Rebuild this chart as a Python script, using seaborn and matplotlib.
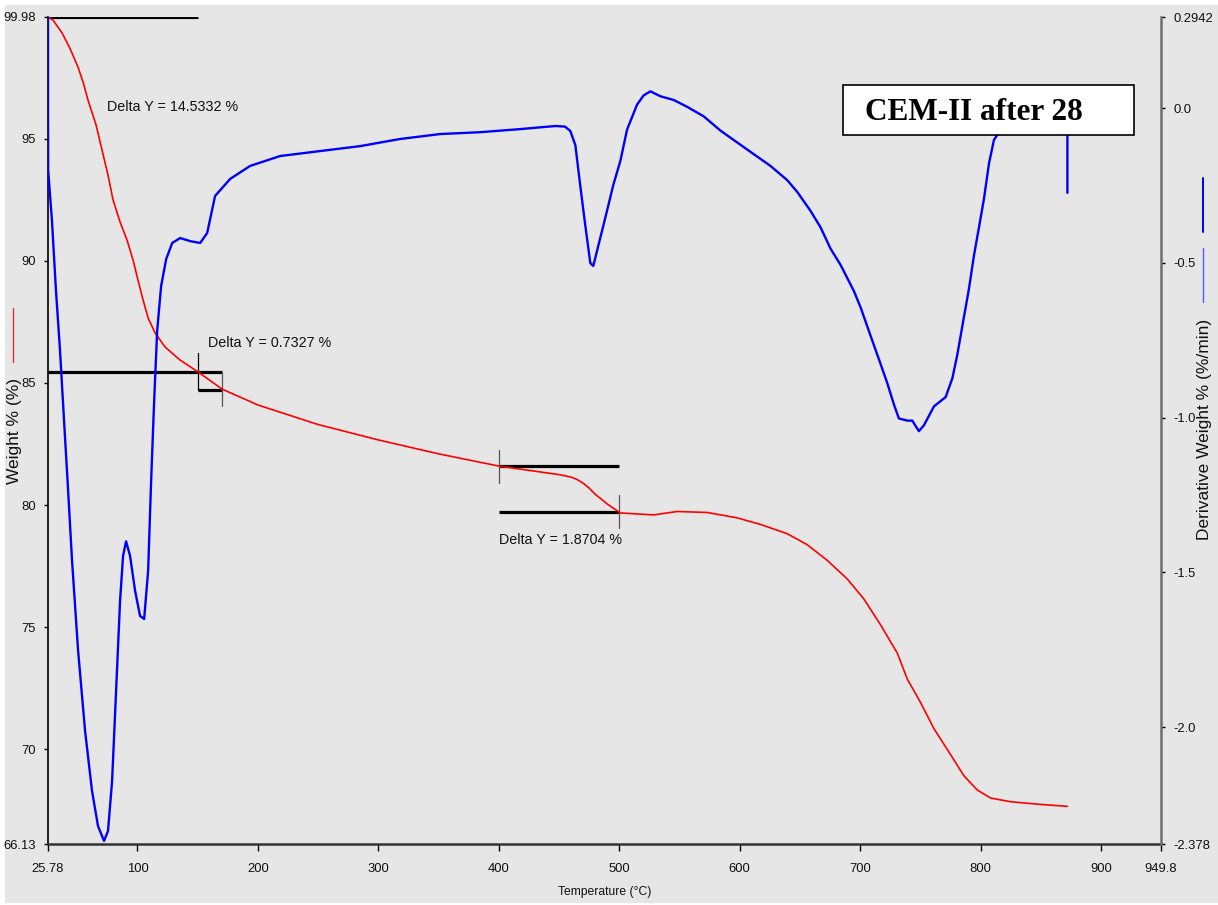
import matplotlib
matplotlib.use("Agg")
import matplotlib.pyplot as plt
from matplotlib import font_manager as fm
from matplotlib.patches import Rectangle
from matplotlib.lines import Line2D
import pandas as pd
import seaborn as sns

# ---------------- data ----------------
tga_temp = [25.78, 30.0, 37.4, 44.0, 50.7, 55.0, 59.0, 65.7, 70.6, 75.6, 79.8, 85.6,
            91.4, 96.4, 100.5, 104.7, 108.9, 114.7, 123.0, 135.4, 150.4, 170.3, 200.0,
            250.0, 300.0, 350.0, 400.0, 450.0, 460.0, 465.0, 470.0, 475.0, 480.0, 485.0,
            490.0, 495.0, 501.0, 528.6, 548.1, 573.0, 597.9, 617.3, 639.5, 656.1, 672.7,
            689.3, 703.1, 717.0, 730.9, 739.2, 750.2, 761.3, 775.1, 786.2, 797.3, 808.4,
            825.0, 847.2, 872.1]
tga_weight = [99.98, 99.85, 99.33, 98.7, 97.93, 97.3, 96.58, 95.56, 94.54, 93.51, 92.49, 91.59,
              90.85, 90.03, 89.21, 88.40, 87.66, 87.05, 86.47, 85.94, 85.45, 84.75, 84.10,
              83.30, 82.67, 82.10, 81.60, 81.25, 81.15, 81.05, 80.90, 80.70, 80.45, 80.25,
              80.05, 79.88, 79.68, 79.60, 79.74, 79.70, 79.48, 79.21, 78.83, 78.38, 77.74,
              76.98, 76.16, 75.10, 73.94, 72.88, 71.92, 70.85, 69.79, 68.92, 68.34, 68.01,
              67.86, 67.76, 67.67]

dtg_temp = [25.78, 25.78, 25.9, 29.1, 32.4, 35.7, 39.1, 42.4, 45.7, 50.7, 56.5, 62.3,
            67.3, 72.3, 75.6, 79.0, 82.3, 85.6, 88.1, 90.6, 93.9, 98.1, 102.2, 105.6,
            108.9, 111.4, 113.9, 116.4, 119.7, 123.9, 128.9, 135.5, 143.8, 152.1, 157.9,
            164.5, 177.0, 193.6, 218.5, 251.7, 285.0, 318.0, 351.4, 384.7, 417.9, 447.0,
            455.0, 459.4, 463.6, 467.7, 471.9, 476.0, 478.5, 482.0, 486.0, 490.0, 495.0,
            501.0, 506.5, 514.8, 520.3, 525.9, 534.2, 545.3, 556.4, 570.2, 584.1, 597.9,
            611.7, 625.6, 639.5, 647.8, 658.8, 667.1, 675.4, 683.8, 694.8, 700.4, 708.7,
            717.0, 722.5, 728.0, 732.2, 739.2, 743.3, 748.8, 753.0, 761.3, 771.0, 776.6,
            780.7, 786.2, 790.4, 794.5, 798.7, 802.8, 807.0, 811.1, 816.7, 871.6, 872.1, 872.1]
dtg_deriv = [0.2942, 0.0, -0.20, -0.366, -0.59, -0.78, -1.01, -1.23, -1.46, -1.75, -2.01, -2.206,
             -2.32, -2.368, -2.336, -2.174, -1.884, -1.593, -1.447, -1.40, -1.447, -1.56, -1.641,
             -1.651, -1.496, -1.205, -0.947, -0.72, -0.575, -0.488, -0.436, -0.42, -0.43, -0.436,
             -0.404, -0.284, -0.229, -0.187, -0.155, -0.139, -0.123, -0.10, -0.084, -0.078,
             -0.068, -0.058, -0.06, -0.074, -0.12, -0.252, -0.381, -0.501, -0.51, -0.455, -0.393,
             -0.33, -0.25, -0.17, -0.07, 0.011, 0.041, 0.054, 0.038, 0.026, 0.004, -0.027,
             -0.073, -0.111, -0.149, -0.187, -0.233, -0.271, -0.332, -0.385, -0.454, -0.507,
             -0.591, -0.644, -0.736, -0.827, -0.888, -0.957, -1.003, -1.010, -1.010, -1.044,
             -1.025, -0.964, -0.934, -0.873, -0.797, -0.675, -0.583, -0.477, -0.385, -0.294,
             -0.179, -0.103, -0.07, -0.05, -0.05, -0.274]

x_ticks = [25.78, 100, 200, 300, 400, 500, 600, 700, 800, 900, 949.8]
x_ticklabels = ["25.78", "100", "200", "300", "400", "500", "600", "700", "800", "900", "949.8"]
left_ticks = [66.13, 70, 75, 80, 85, 90, 95, 99.98]
left_ticklabels = ["66.13", "70", "75", "80", "85", "90", "95", "99.98"]
right_ticks = [-2.378, -2.0, -1.5, -1.0, -0.5, 0.0, 0.2942]
right_ticklabels = ["-2.378", "-2.0", "-1.5", "-1.0", "-0.5", "0.0", "0.2942"]

# Delta Y step analyses: (T start, T end) and (level start, level end)
step_temps = [(25.78, 150.0), (150.0, 170.0), (400.0, 500.0)]
step_levels = [(99.98, 85.447), (85.447, 84.715), (81.59, 79.72)]
delta_labels = ["Delta Y = 14.5332 %", "Delta Y = 0.7327 %", "Delta Y = 1.8704 %"]
title_text = "CEM-II after 28"

# ---------------- style ----------------
sns.set_theme(style="white")
avail = {f.name for f in fm.fontManager.ttflist}
if "Liberation Sans Narrow" in avail:
    narrow = "Liberation Sans Narrow"; k = 1.0
else:
    narrow = "Liberation Sans"; k = 0.87
plt.rcParams["font.family"] = [narrow, "DejaVu Sans"]

W, H = 1218, 905
fig = plt.figure(figsize=(W / 100, H / 100), dpi=100)
fig.patch.set_facecolor("white")
fig.add_artist(Rectangle((5 / W, 2 / H), 1 - 5 / W, 1 - 7 / H, transform=fig.transFigure,
                         facecolor="#e6e6e6", edgecolor="none", zorder=-10))

L, R, T, B = 48, 1161, 17, 844
ax1 = fig.add_axes([L / W, 1 - B / H, (R - L) / W, (B - T) / H])
ax1.set_facecolor("none")
ax2 = ax1.twinx()
ax2.set_facecolor("none")

# delta annotation lines (under the curves)
lk = dict(color="black", lw=2.3, solid_capstyle="butt", zorder=1)
(t0, t1), (t2, t3), (t4, t5) = step_temps
ax1.plot([t0, t1], [step_levels[0][0]] * 2, **lk)
ax1.plot([t0, t3], [step_levels[0][1]] * 2, **lk)
ax1.plot([t2, t3], [step_levels[1][1]] * 2, **lk)
ax1.plot([t4, t5], [step_levels[2][0]] * 2, **lk)
ax1.plot([t4, t5], [step_levels[2][1]] * 2, **lk)
ax1.plot([t2, t2], [step_levels[1][0] + 0.78, step_levels[1][1]], color="black", lw=0.9, zorder=1)
ax1.plot([t3, t3], [step_levels[1][0], step_levels[1][1] - 0.66], color="#555555", lw=0.9, zorder=1)
ax1.plot([t4, t4], [step_levels[2][0] + 0.66, step_levels[2][0] - 0.69], color="#555555", lw=0.9, zorder=1)
ax1.plot([t5, t5], [step_levels[2][1] + 0.69, step_levels[2][1] - 0.66], color="#555555", lw=0.9, zorder=1)

tga = pd.DataFrame({"Temperature": tga_temp, "Weight": tga_weight})
dtg = pd.DataFrame({"Temperature": dtg_temp, "Deriv": dtg_deriv})
sns.lineplot(data=tga, x="Temperature", y="Weight", ax=ax1, color="#ff0000", lw=1.2,
             estimator=None, sort=False, zorder=3)
sns.lineplot(data=dtg, x="Temperature", y="Deriv", ax=ax2, color="#0000ff", lw=1.7,
             estimator=None, sort=False, zorder=3)

ax1.set_xlim(25.78, 949.8)
ax1.set_ylim(66.13, 99.98)
ax2.set_ylim(-2.378, 0.2942)
ax1.set_xticks(x_ticks)
ax1.set_xticklabels(x_ticklabels)
ax1.set_yticks(left_ticks)
ax1.set_yticklabels(left_ticklabels)
ax2.set_yticks(right_ticks)
ax2.set_yticklabels(right_ticklabels)
ax1.set_xlabel(""); ax1.set_ylabel(""); ax2.set_ylabel("")

fs_tick = 10.8 * k
ax1.tick_params(axis="y", direction="out", length=3, width=1, colors="black", pad=6,
                labelsize=fs_tick, left=True)
ax1.tick_params(axis="x", direction="out", length=5, width=1, colors="black", pad=9,
                labelsize=fs_tick, bottom=True)
ax2.tick_params(axis="y", direction="out", length=3, width=1, colors="black", pad=6,
                labelsize=fs_tick, right=True)
for lab in ax1.get_xticklabels() + ax1.get_yticklabels() + ax2.get_yticklabels():
    lab.set_color("#111111")

for ax in (ax1, ax2):
    ax.spines["top"].set_visible(False)
ax1.spines["right"].set_visible(False)
ax2.spines["left"].set_visible(False)
ax2.spines["bottom"].set_visible(False)
ax1.spines["left"].set_color("black"); ax1.spines["left"].set_linewidth(1.2)
ax1.spines["bottom"].set_color("#333333"); ax1.spines["bottom"].set_linewidth(1.8)
ax2.spines["right"].set_color("#6e6e6e"); ax2.spines["right"].set_linewidth(1.8)
ax1.grid(False); ax2.grid(False)

# Delta texts
fs_d = 11.8 * k
ax1.text(74.8, 96.30, delta_labels[0], fontsize=fs_d, ha="left", va="center", color="#111111", zorder=4)
ax1.text(158.7, 86.64, delta_labels[1], fontsize=fs_d, ha="left", va="center", color="#111111", zorder=4)
ax1.text(400.5, 78.57, delta_labels[2], fontsize=fs_d, ha="left", va="center", color="#111111", zorder=4)

# axis labels
fig.text(605 / W, 1 - 892 / H, "Temperature (°C)", fontsize=10 * k, ha="center", va="center",
         color="#111111")
fig.text(15 / W, 1 - 431 / H, "Weight % (%)", fontsize=12.5, ha="center", va="center",
         rotation=90, color="#111111", family=["Liberation Sans", "DejaVu Sans"])
fig.text(1205 / W, 1 - 429 / H, "Derivative Weight % (%/min)", fontsize=12.5, ha="center",
         va="center", rotation=90, color="#111111", family=["Liberation Sans", "DejaVu Sans"])

# series key marks beside the axis labels
fig.add_artist(Line2D([13 / W, 13 / W], [1 - 308 / H, 1 - 362 / H], color="#e03030", lw=1.0,
                      transform=fig.transFigure))
fig.add_artist(Line2D([1203 / W, 1203 / W], [1 - 178 / H, 1 - 232 / H], color="#0000ee", lw=1.4,
                      transform=fig.transFigure))
fig.add_artist(Line2D([1203 / W, 1203 / W], [1 - 248 / H, 1 - 302 / H], color="#5a5aff", lw=1.0,
                      transform=fig.transFigure))

# title box
fig.add_artist(Rectangle((843 / W, 1 - 135 / H), (1134 - 843) / W, 50 / H, transform=fig.transFigure,
                         facecolor="white", edgecolor="black", lw=1.2, zorder=10))
fig.text(865 / W, 1 - 113 / H, title_text, fontsize=22.5, fontweight="bold", ha="left", va="center",
         family=["Liberation Serif", "DejaVu Serif"], color="black", zorder=11)

fig.savefig("out.png", dpi=100, facecolor=fig.get_facecolor())
